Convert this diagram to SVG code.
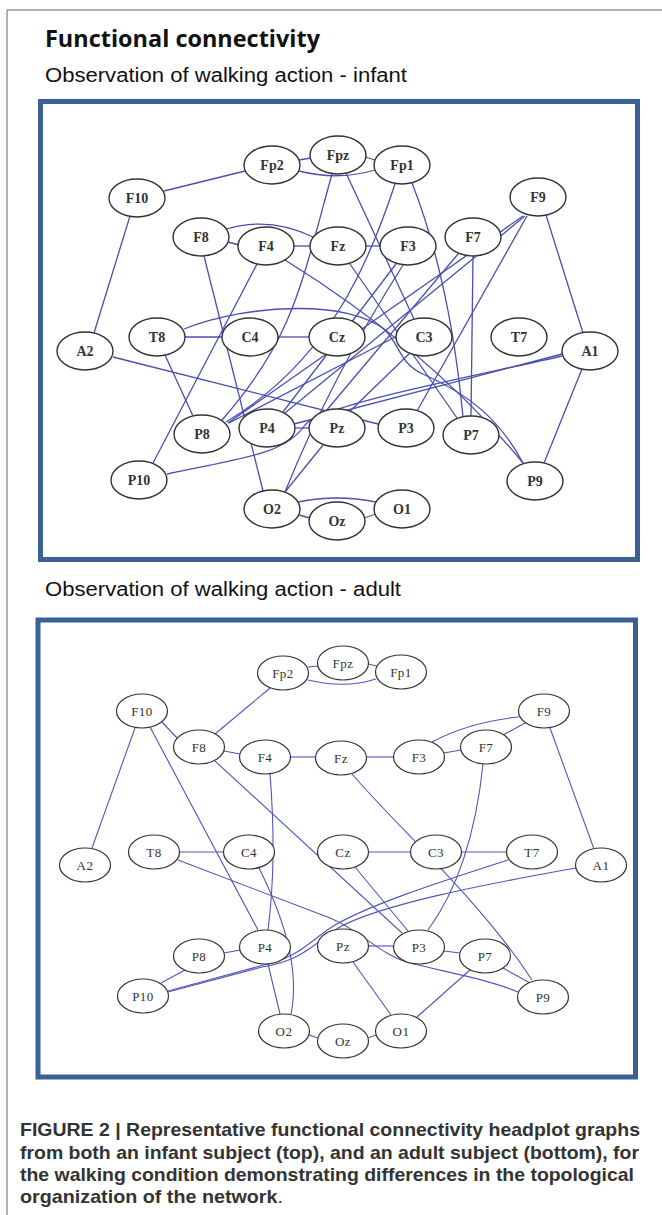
<svg xmlns="http://www.w3.org/2000/svg" width="662" height="1215" viewBox="0 0 662 1215">
<style>
.frame{fill:none;stroke:#666;stroke-width:1}
.panel{fill:#fff;stroke:#3b6192;stroke-width:5}
.e1{fill:none;stroke:#4a4fb0;stroke-width:1.3}
.e2{fill:none;stroke:#5156b8;stroke-width:1.1}
.n1 ellipse{fill:#fff;stroke:#333;stroke-width:1.4}
.n1 text{font-family:"Liberation Serif",serif;font-weight:bold;font-size:14px;fill:#333;text-anchor:middle}
.n2 ellipse{fill:#fff;stroke:#333;stroke-width:1.2}
.n2 text{font-family:"Liberation Serif",serif;font-size:13px;fill:#333;text-anchor:middle;letter-spacing:0.5px}
.title{font-family:"Open Sans","Liberation Sans",sans-serif;font-weight:bold;font-size:23px;fill:#111}
.sub{font-family:"Liberation Sans",Arial,sans-serif;font-size:20px;fill:#111}
.cap{font-family:"Liberation Sans",Arial,sans-serif;font-weight:bold;font-size:18.5px;fill:#333}
</style>
<g id="frame"><path class="frame" d="M7,1215 L7,10 L662,10"/></g>
<text class="title" x="45" y="47" textLength="275" lengthAdjust="spacingAndGlyphs">Functional connectivity</text>
<text class="sub" x="45" y="82" textLength="362" lengthAdjust="spacingAndGlyphs">Observation of walking action - infant</text>
<text class="sub" x="45" y="596" textLength="356" lengthAdjust="spacingAndGlyphs">Observation of walking action - adult</text>
<rect class="panel" x="40.5" y="101.5" width="597" height="458"/>
<rect class="panel" x="38" y="620" width="597.5" height="457"/>

<g id="connectors-infant">
<path class="e1" d="M164,191 L245,171"/>
<path class="e1" d="M130,216 L94,333"/>
<path class="e1" d="M299,160 L311,158"/>
<path class="e1" d="M299,171 Q338,181 375,170"/>
<path class="e1" d="M365,157 L375,160"/>
<path class="e1" d="M332,174 C300,290 292,340 222,420"/>
<path class="e1" d="M346,173 L414,319"/>
<path class="e1" d="M412,183 Q450,280 463,417"/>
<path class="e1" d="M395,184 C370,260 330,360 226,422"/>
<path class="e1" d="M228,242 L239,245"/>
<path class="e1" d="M226,229 Q270,216 313,237"/>
<path class="e1" d="M204,256 L263,491"/>
<path class="e1" d="M294,246 L310,246"/>
<path class="e1" d="M257,264 L153,463"/>
<path class="e1" d="M285,260 Q430,350 523,463"/>
<path class="e1" d="M366,246 L380,246"/>
<path class="e1" d="M350,264 L457,418"/>
<path class="e1" d="M396,264 L283,412"/>
<path class="e1" d="M403,265 Q330,380 285,492"/>
<path class="e1" d="M458,254 L326,411"/>
<path class="e1" d="M473,256 L471,416"/>
<path class="e1" d="M523,216 L228,423"/>
<path class="e1" d="M525,216 L285,413"/>
<path class="e1" d="M527,216 L417,411"/>
<path class="e1" d="M546,215 L583,333"/>
<path class="e1" d="M113,357 L378,424"/>
<path class="e1" d="M185,337 L222,337"/>
<path class="e1" d="M165,355 L193,416"/>
<path class="e1" d="M184,329 C250,303 350,300 385,330 C400,345 400,365 425,375 C470,395 500,420 523,463"/>
<path class="e1" d="M278,337 L309,337"/>
<path class="e1" d="M229,423 L397,336"/>
<path class="e1" d="M410,353 L350,411"/>
<path class="e1" d="M562,354 L294,424"/>
<path class="e1" d="M167,474 C240,458 285,455 305,425 C320,405 480,375 562,356"/>
<path class="e1" d="M582,369 L544,463"/>
<path class="e1" d="M295,428 L309,428"/>
<path class="e1" d="M323,445 L285,492"/>
<path class="e1" d="M299,515 L310,518"/>
<path class="e1" d="M298,502 Q337,494 376,502"/>
<path class="e1" d="M364,518 L376,514"/>
</g>

<g id="infant-nodes" class="n1">
<g id="i-F10"><ellipse cx="137" cy="198" rx="28" ry="19"/><text x="137" y="203">F10</text></g>
<g id="i-Fp2"><ellipse cx="272" cy="165" rx="28" ry="19"/><text x="272" y="170">Fp2</text></g>
<g id="i-Fpz"><ellipse cx="338" cy="155" rx="28" ry="19"/><text x="338" y="160">Fpz</text></g>
<g id="i-Fp1"><ellipse cx="402" cy="165" rx="28" ry="19"/><text x="402" y="170">Fp1</text></g>
<g id="i-F9"><ellipse cx="538" cy="197" rx="28" ry="19"/><text x="538" y="202">F9</text></g>
<g id="i-F8"><ellipse cx="201" cy="237" rx="28" ry="19"/><text x="201" y="242">F8</text></g>
<g id="i-F4"><ellipse cx="266" cy="246" rx="28" ry="19"/><text x="266" y="251">F4</text></g>
<g id="i-Fz"><ellipse cx="338" cy="246" rx="28" ry="19"/><text x="338" y="251">Fz</text></g>
<g id="i-F3"><ellipse cx="408" cy="246" rx="28" ry="19"/><text x="408" y="251">F3</text></g>
<g id="i-F7"><ellipse cx="473" cy="237" rx="28" ry="19"/><text x="473" y="242">F7</text></g>
<g id="i-A2"><ellipse cx="85" cy="351" rx="28" ry="19"/><text x="85" y="356">A2</text></g>
<g id="i-T8"><ellipse cx="157" cy="337" rx="28" ry="19"/><text x="157" y="342">T8</text></g>
<g id="i-C4"><ellipse cx="250" cy="337" rx="28" ry="19"/><text x="250" y="342">C4</text></g>
<g id="i-Cz"><ellipse cx="337" cy="337" rx="28" ry="19"/><text x="337" y="342">Cz</text></g>
<g id="i-C3"><ellipse cx="424" cy="337" rx="28" ry="19"/><text x="424" y="342">C3</text></g>
<g id="i-T7"><ellipse cx="519" cy="337" rx="28" ry="19"/><text x="519" y="342">T7</text></g>
<g id="i-A1"><ellipse cx="590" cy="351" rx="28" ry="19"/><text x="590" y="356">A1</text></g>
<g id="i-P8"><ellipse cx="202" cy="434" rx="28" ry="19"/><text x="202" y="439">P8</text></g>
<g id="i-P4"><ellipse cx="267" cy="428" rx="28" ry="19"/><text x="267" y="433">P4</text></g>
<g id="i-Pz"><ellipse cx="337" cy="428" rx="28" ry="19"/><text x="337" y="433">Pz</text></g>
<g id="i-P3"><ellipse cx="406" cy="428" rx="28" ry="19"/><text x="406" y="433">P3</text></g>
<g id="i-P7"><ellipse cx="471" cy="435" rx="28" ry="19"/><text x="471" y="440">P7</text></g>
<g id="i-P10"><ellipse cx="139" cy="480" rx="28" ry="19"/><text x="139" y="485">P10</text></g>
<g id="i-P9"><ellipse cx="535" cy="481" rx="28" ry="19"/><text x="535" y="486">P9</text></g>
<g id="i-O2"><ellipse cx="272" cy="509" rx="28" ry="19"/><text x="272" y="514">O2</text></g>
<g id="i-Oz"><ellipse cx="337" cy="521" rx="28" ry="19"/><text x="337" y="526">Oz</text></g>
<g id="i-O1"><ellipse cx="402" cy="509" rx="28" ry="19"/><text x="402" y="514">O1</text></g>
</g>

<g id="connectors-adult">
<path class="e2" d="M308,667 L318,666"/>
<path class="e2" d="M308,680 Q345,689 376,679"/>
<path class="e2" d="M368,664 L377,666"/>
<path class="e2" d="M270,688 L215,734"/>
<path class="e2" d="M162,722 L177,738"/>
<path class="e2" d="M135,728 L92,848"/>
<path class="e2" d="M150,727 L258,930"/>
<path class="e2" d="M224,751 L240,754"/>
<path class="e2" d="M215,761 L402,933"/>
<path class="e2" d="M270,774 Q277,860 268,930"/>
<path class="e2" d="M290,757 L316,757"/>
<path class="e2" d="M367,757 L394,757"/>
<path class="e2" d="M352,774 C400,830 480,900 532,980"/>
<path class="e2" d="M444,753 L461,750"/>
<path class="e2" d="M432,742 Q470,722 519,717"/>
<path class="e2" d="M503,735 L525,723"/>
<path class="e2" d="M483,764 Q472,870 428,930"/>
<path class="e2" d="M550,728 L594,849"/>
<path class="e2" d="M180,852 L224,852"/>
<path class="e2" d="M178,860 L330,918 C360,930 380,955 410,963 C450,973 490,980 518,992"/>
<path class="e2" d="M259,868 C285,920 300,970 291,1014"/>
<path class="e2" d="M369,852 L410,852"/>
<path class="e2" d="M462,852 L506,852"/>
<path class="e2" d="M355,867 L408,931"/>
<path class="e2" d="M508,860 C430,885 370,905 335,925 C310,940 300,958 260,966 L168,991"/>
<path class="e2" d="M576,868 C480,885 380,905 340,927 C315,942 305,960 262,967 L168,992"/>
<path class="e2" d="M224,953 L240,950"/>
<path class="e2" d="M185,970 L161,983"/>
<path class="e2" d="M268,964 L280,1014"/>
<path class="e2" d="M369,946 L394,946"/>
<path class="e2" d="M444,951 L460,953"/>
<path class="e2" d="M353,962 L391,1015"/>
<path class="e2" d="M470,970 L417,1017"/>
<path class="e2" d="M503,968 L530,983"/>
<path class="e2" d="M309,1035 L318,1038"/>
<path class="e2" d="M368,1038 L376,1035"/>
</g>

<g id="adult-nodes" class="n2">
<g id="a-Fp2"><ellipse cx="283" cy="673" rx="25.5" ry="17"/><text x="283" y="677.5">Fp2</text></g>
<g id="a-Fpz"><ellipse cx="343" cy="663" rx="25.5" ry="17"/><text x="343" y="667.5">Fpz</text></g>
<g id="a-Fp1"><ellipse cx="401" cy="672" rx="25.5" ry="17"/><text x="401" y="676.5">Fp1</text></g>
<g id="a-F10"><ellipse cx="142" cy="711" rx="25.5" ry="17"/><text x="142" y="715.5">F10</text></g>
<g id="a-F9"><ellipse cx="544" cy="711" rx="25.5" ry="17"/><text x="544" y="715.5">F9</text></g>
<g id="a-F8"><ellipse cx="199" cy="747" rx="25.5" ry="17"/><text x="199" y="751.5">F8</text></g>
<g id="a-F4"><ellipse cx="265" cy="757" rx="25.5" ry="17"/><text x="265" y="761.5">F4</text></g>
<g id="a-Fz"><ellipse cx="341" cy="758" rx="25.5" ry="17"/><text x="341" y="762.5">Fz</text></g>
<g id="a-F3"><ellipse cx="419" cy="757" rx="25.5" ry="17"/><text x="419" y="761.5">F3</text></g>
<g id="a-F7"><ellipse cx="486" cy="747" rx="25.5" ry="17"/><text x="486" y="751.5">F7</text></g>
<g id="a-A2"><ellipse cx="85" cy="865" rx="25.5" ry="17"/><text x="85" y="869.5">A2</text></g>
<g id="a-T8"><ellipse cx="154" cy="852" rx="25.5" ry="17"/><text x="154" y="856.5">T8</text></g>
<g id="a-C4"><ellipse cx="249" cy="852" rx="25.5" ry="17"/><text x="249" y="856.5">C4</text></g>
<g id="a-Cz"><ellipse cx="343" cy="852" rx="25.5" ry="17"/><text x="343" y="856.5">Cz</text></g>
<g id="a-C3"><ellipse cx="436" cy="852" rx="25.5" ry="17"/><text x="436" y="856.5">C3</text></g>
<g id="a-T7"><ellipse cx="532" cy="852" rx="25.5" ry="17"/><text x="532" y="856.5">T7</text></g>
<g id="a-A1"><ellipse cx="601" cy="865" rx="25.5" ry="17"/><text x="601" y="869.5">A1</text></g>
<g id="a-P8"><ellipse cx="199" cy="956" rx="25.5" ry="17"/><text x="199" y="960.5">P8</text></g>
<g id="a-P4"><ellipse cx="265" cy="947" rx="25.5" ry="17"/><text x="265" y="951.5">P4</text></g>
<g id="a-Pz"><ellipse cx="343" cy="946" rx="25.5" ry="17"/><text x="343" y="950.5">Pz</text></g>
<g id="a-P3"><ellipse cx="419" cy="947" rx="25.5" ry="17"/><text x="419" y="951.5">P3</text></g>
<g id="a-P7"><ellipse cx="485" cy="956" rx="25.5" ry="17"/><text x="485" y="960.5">P7</text></g>
<g id="a-P9"><ellipse cx="543" cy="997" rx="25.5" ry="17"/><text x="543" y="1001.5">P9</text></g>
<g id="a-P10"><ellipse cx="143" cy="996" rx="25.5" ry="17"/><text x="143" y="1000.5">P10</text></g>
<g id="a-O2"><ellipse cx="284" cy="1031" rx="25.5" ry="17"/><text x="284" y="1035.5">O2</text></g>
<g id="a-Oz"><ellipse cx="343" cy="1041" rx="25.5" ry="17"/><text x="343" y="1045.5">Oz</text></g>
<g id="a-O1"><ellipse cx="401" cy="1031" rx="25.5" ry="17"/><text x="401" y="1035.5">O1</text></g>
</g>

<g id="caption">
<text class="cap" x="20" y="1136" textLength="620" lengthAdjust="spacingAndGlyphs">FIGURE 2 | Representative functional connectivity headplot graphs</text>
<text class="cap" x="20" y="1159" textLength="619" lengthAdjust="spacingAndGlyphs">from both an infant subject (top), and an adult subject (bottom), for</text>
<text class="cap" x="20" y="1181" textLength="614" lengthAdjust="spacingAndGlyphs">the walking condition demonstrating differences in the topological</text>
<text class="cap" x="20" y="1203" textLength="263" lengthAdjust="spacingAndGlyphs">organization of the network<tspan font-weight="normal">.</tspan></text>
</g>
</svg>
